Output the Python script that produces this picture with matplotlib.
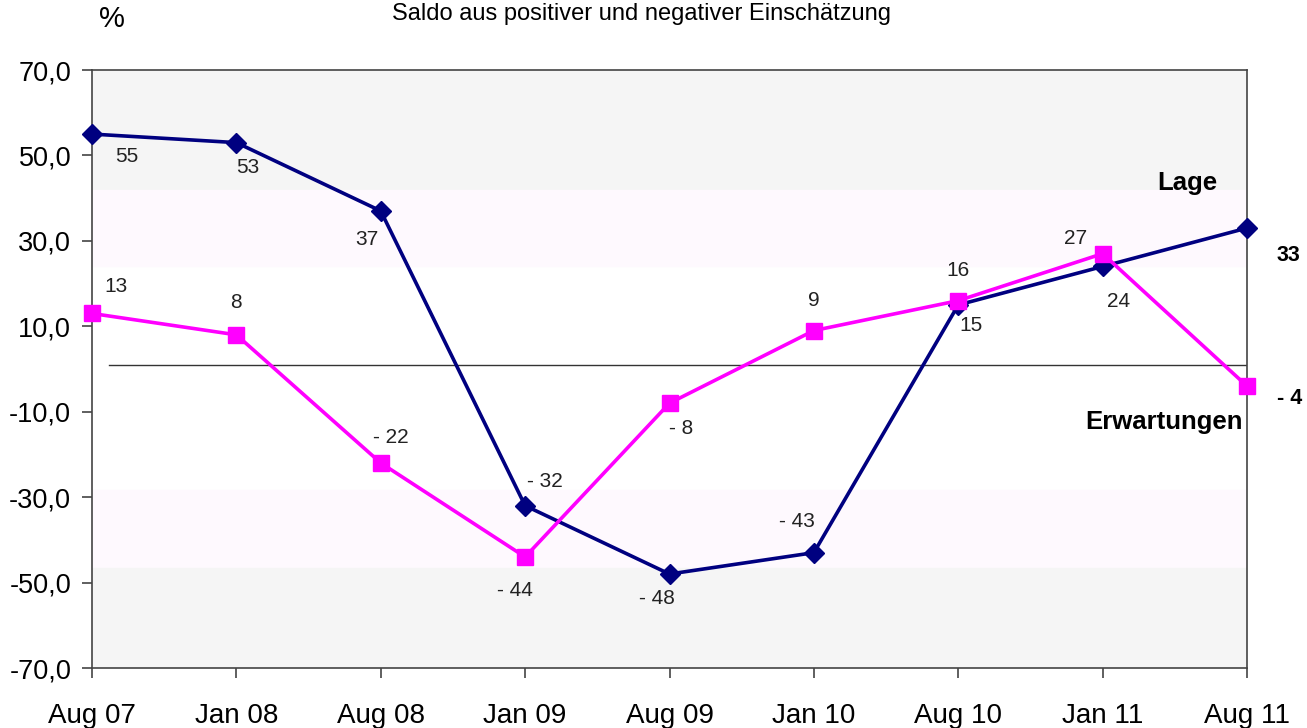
import matplotlib.pyplot as plt

plt.rcParams['font.family'] = ['Liberation Sans', 'DejaVu Sans']

# data
dates = ["Aug 07", "Jan 08", "Aug 08", "Jan 09", "Aug 09", "Jan 10", "Aug 10", "Jan 11", "Aug 11"]
lage = [55, 53, 37, -32, -48, -43, 15, 24, 33]
erwartungen = [13, 8, -22, -44, -8, 9, 16, 27, -4]

# label offsets in pixels (dx, dy) relative to each point
lage_off = [(35, -22), (11, -25), (-14, -29), (20, 24), (-13, -24), (-17, 31), (13, -21), (16, -35), (41, -27)]
erw_off = [(24, 27), (0, 32), (10, 25), (-10, -34), (12, -25), (0, 30), (0, 30), (-27, 15), (43, -12)]

x = list(range(len(dates)))

fig = plt.figure(figsize=(13.07, 7.28), dpi=100)
ax = fig.add_axes([92 / 1307, 60 / 728, 1155 / 1307, 598 / 728])

# background bands
ax.axhspan(42, 70, color='#f5f5f5', zorder=0)
ax.axhspan(24, 42, color='#fef9fe', zorder=0)
ax.axhspan(-46.6, -28.3, color='#fef9fe', zorder=0)
ax.axhspan(-70, -46.6, color='#f5f5f5', zorder=0)

ax.plot([0.12, 8], [1, 1], color='#333333', lw=1, zorder=1)

ax.plot(x, lage, color='#000080', lw=2.6, marker='D', ms=10, zorder=3, clip_on=False)
ax.plot(x, erwartungen, color='#ff00ff', lw=2.6, marker='s', ms=12, zorder=4, clip_on=False)

def fmt(v):
    return f"- {abs(v)}" if v < 0 else str(v)

for vals, offs in ((lage, lage_off), (erwartungen, erw_off)):
    for i, v in enumerate(vals):
        last = i == len(vals) - 1
        ax.annotate(fmt(v), (x[i], v), xytext=offs[i], textcoords='offset pixels',
                    ha='center', va='center',
                    fontsize=15.5 if last else 15,
                    color='black' if last else '#222222',
                    fontweight='bold' if last else 'normal')

ax.text(7.59, 43.5, "Lage", ha='center', va='center', fontsize=18.5, fontweight='bold')
ax.text(7.97, -12.5, "Erwartungen", ha='right', va='center', fontsize=18.5, fontweight='bold')

ax.set_xlim(0, 8)
ax.set_ylim(-70, 70)
ax.set_xticks(x)
ax.set_xticklabels(dates, fontsize=20)
yt = list(range(-70, 71, 20))
ax.set_yticks(yt)
ax.set_yticklabels([f"{v},0" for v in yt], fontsize=19.5)
ax.tick_params(direction='out', length=7, width=1.2, color='#444444')
ax.tick_params(axis='x', pad=18)
ax.tick_params(axis='y', pad=8)
for s in ax.spines.values():
    s.set_color('#444444')
    s.set_linewidth(1.2)

fig.text(641 / 1307, 1 - 14 / 728, "Saldo aus positiver und negativer Einschätzung",
         ha='center', va='center', fontsize=17)
fig.text(112 / 1307, 1 - 19 / 728, "%", ha='center', va='center', fontsize=21)

fig.savefig('out.png', dpi=100)
